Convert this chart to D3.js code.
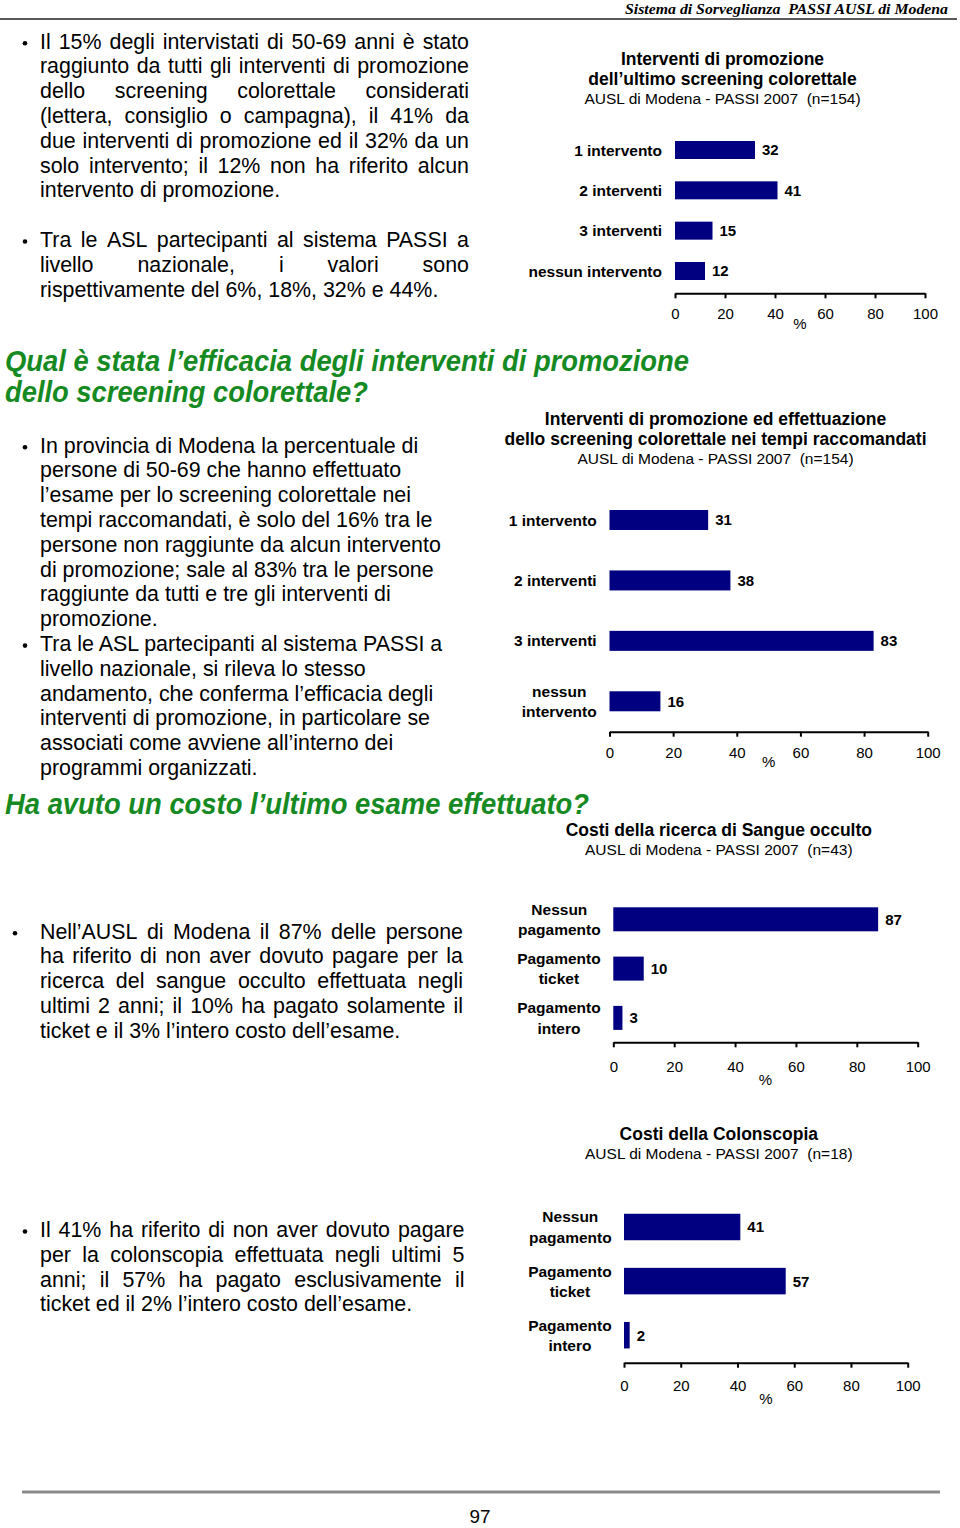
<!DOCTYPE html>
<html><head><meta charset="utf-8">
<script src="https://cdn.jsdelivr.net/npm/d3@7"></script>
<style>body{margin:0;background:#fff} svg{display:block} text{white-space:pre}</style>
</head><body>
<script>
// ---------- DATA ----------
const xTicks = [0, 20, 40, 60, 80, 100];

const chart1Categories = ["1 intervento", "2 interventi", "3 interventi", "nessun intervento"];
const chart1Values = [32, 41, 15, 12];

const chart2Categories = ["1 intervento", "2 interventi", "3 interventi", "nessun\nintervento"];
const chart2Values = [31, 38, 83, 16];

const chart3Categories = ["Nessun\npagamento", "Pagamento\nticket", "Pagamento\nintero"];
const chart3Values = [87, 10, 3];

const chart4Categories = ["Nessun\npagamento", "Pagamento\nticket", "Pagamento\nintero"];
const chart4Values = [41, 57, 2];

const chart1Titles = ["Interventi di promozione", "dell\u2019ultimo screening colorettale", "AUSL di Modena - PASSI 2007  (n=154)"];
const chart2Titles = ["Interventi di promozione ed effettuazione", "dello screening colorettale nei tempi raccomandati", "AUSL di Modena - PASSI 2007  (n=154)"];
const chart3Titles = ["Costi della ricerca di Sangue occulto", "AUSL di Modena - PASSI 2007  (n=43)"];
const chart4Titles = ["Costi della Colonscopia", "AUSL di Modena - PASSI 2007  (n=18)"];

const headerText = "Sistema di Sorveglianza  PASSI AUSL di Modena";
const heading1 = ["Qual \u00e8 stata l\u2019efficacia degli interventi di promozione", "dello screening colorettale?"];
const heading2 = "Ha avuto un costo l\u2019ultimo esame effettuato?";
const pageNumber = "97";

const text1a = [
  "Il 15% degli intervistati di 50-69 anni \u00e8 stato",
  "raggiunto da tutti gli interventi di promozione",
  "dello screening colorettale considerati",
  "(lettera, consiglio o campagna), il 41% da",
  "due interventi di promozione ed il 32% da un",
  "solo intervento; il 12% non ha riferito alcun",
  "intervento di promozione."
];
const text1b = [
  "Tra le ASL partecipanti al sistema PASSI a",
  "livello nazionale, i valori sono",
  "rispettivamente del 6%, 18%, 32% e 44%."
];
const text2a = [
  "In provincia di Modena la percentuale di",
  "persone di 50-69 che hanno effettuato",
  "l\u2019esame per lo screening colorettale nei",
  "tempi raccomandati, \u00e8 solo del 16% tra le",
  "persone non raggiunte da alcun intervento",
  "di promozione; sale al 83% tra le persone",
  "raggiunte da tutti e tre gli interventi di",
  "promozione."
];
const text2b = [
  "Tra le ASL partecipanti al sistema PASSI a",
  "livello nazionale, si rileva lo stesso",
  "andamento, che conferma l\u2019efficacia degli",
  "interventi di promozione, in particolare se",
  "associati come avviene all\u2019interno dei",
  "programmi organizzati."
];
const text3 = [
  "Nell\u2019AUSL di Modena il 87% delle persone",
  "ha riferito di non aver dovuto pagare per la",
  "ricerca del sangue occulto effettuata negli",
  "ultimi 2 anni; il 10% ha pagato solamente il",
  "ticket e il 3% l\u2019intero costo dell\u2019esame."
];
const text4 = [
  "Il 41% ha riferito di non aver dovuto pagare",
  "per la colonscopia effettuata negli ultimi 5",
  "anni; il 57% ha pagato esclusivamente il",
  "ticket ed il 2% l\u2019intero costo dell\u2019esame."
];

// ---------- SETUP ----------
const SANS = "'Liberation Sans', Arial, Helvetica, sans-serif";
const SERIF = "'Liberation Serif', 'Times New Roman', serif";
const BAR = "#000080";
const GREEN = "#168a22";

const svg = d3.select("body").append("svg")
  .attr("width", 960).attr("height", 1528)
  .attr("font-family", SANS);
svg.append("rect").attr("width", 960).attr("height", 1528).attr("fill", "#fff");

function measure(text, size, weight) {
  const t = svg.append("text").attr("font-size", size).attr("font-weight", weight || "normal")
    .attr("font-family", SANS).text(text);
  const w = t.node().getComputedTextLength();
  t.remove();
  return w;
}

// ---------- HEADER / FOOTER ----------
svg.append("text").attr("x", 625).attr("y", 13.5)
  .attr("font-family", SERIF).attr("font-style", "italic").attr("font-weight", "bold")
  .attr("font-size", 15.5).attr("textLength", 323).attr("lengthAdjust", "spacingAndGlyphs")
  .text(headerText);
svg.append("line").attr("x1", 0).attr("x2", 957).attr("y1", 19).attr("y2", 19)
  .attr("stroke", "#222").attr("stroke-width", 1.6);

svg.append("line").attr("x1", 22).attr("x2", 940).attr("y1", 1492).attr("y2", 1492)
  .attr("stroke", "#8a8a8a").attr("stroke-width", 3);
svg.append("text").attr("x", 480).attr("y", 1523).attr("text-anchor", "middle")
  .attr("font-size", 18).attr("textLength", 21).attr("lengthAdjust", "spacingAndGlyphs")
  .text(pageNumber);

// ---------- GREEN HEADINGS ----------
svg.append("text").attr("x", 5).attr("y", 371).attr("fill", GREEN)
  .attr("font-size", 29).attr("font-weight", "bold").attr("font-style", "italic")
  .attr("textLength", 684).attr("lengthAdjust", "spacingAndGlyphs").text(heading1[0]);
svg.append("text").attr("x", 5).attr("y", 402).attr("fill", GREEN)
  .attr("font-size", 29).attr("font-weight", "bold").attr("font-style", "italic")
  .attr("textLength", 363).attr("lengthAdjust", "spacingAndGlyphs").text(heading1[1]);
svg.append("text").attr("x", 5).attr("y", 814).attr("fill", GREEN)
  .attr("font-size", 29).attr("font-weight", "bold").attr("font-style", "italic")
  .attr("textLength", 584).attr("lengthAdjust", "spacingAndGlyphs").text(heading2);

// ---------- BODY TEXT ----------
const FS = 21.4, STEP = 24.8;
function paragraph(lines, opt) {
  const g = svg.append("g").attr("font-size", FS).attr("fill", "#000");
  if (opt.bulletX != null) {
    g.append("circle").attr("cx", opt.bulletX).attr("cy", opt.y0 + 2).attr("r", 2.3).attr("fill", "#000");
  }
  lines.forEach((line, i) => {
    const baseline = opt.y0 + i * STEP + 7.4;
    const last = i === lines.length - 1;
    if (opt.right && !last) {
      const words = line.split(" ");
      const widths = words.map(w => measure(w, FS));
      const total = d3.sum(widths);
      const gap = (opt.right - opt.x - total) / (words.length - 1);
      const t = g.append("text").attr("y", baseline);
      let cx = opt.x;
      words.forEach((w, k) => {
        t.append("tspan").attr("x", cx).text(w);
        cx += widths[k] + gap;
      });
    } else {
      g.append("text").attr("x", opt.x).attr("y", baseline).text(line);
    }
  });
}
paragraph(text1a, { x: 40, y0: 41.2, right: 469, bulletX: 25 });
paragraph(text1b, { x: 40, y0: 239.5, right: 469, bulletX: 25 });
paragraph(text2a, { x: 40, y0: 445.2, bulletX: 25 });
paragraph(text2b, { x: 40, y0: 445.2 + 8 * STEP, bulletX: 25 });
paragraph(text3, { x: 40, y0: 931.2, right: 463, bulletX: 15 });
paragraph(text4, { x: 40, y0: 1229.5, right: 464.5, bulletX: 25 });

// ---------- CHARTS ----------
function drawChart(cfg, cats, vals, titles) {
  const g = svg.append("g");
  const x = d3.scaleLinear().domain([0, 100]).range([cfg.x0, cfg.x1]);
  const n = cats.length;
  const pi = 1 - cfg.barH / cfg.step;
  const y = d3.scaleBand().domain(cats)
    .range([cfg.c0 - cfg.step / 2, cfg.c0 + (n - 0.5) * cfg.step])
    .paddingInner(pi).paddingOuter(pi / 2);
  const bw = y.bandwidth();

  titles.forEach((t, i) => {
    const bold = i < cfg.boldTitles;
    g.append("text").attr("x", cfg.titleX).attr("y", cfg.titleY[i])
      .attr("text-anchor", "middle")
      .attr("font-size", bold ? 17.5 : 15.5)
      .attr("font-weight", bold ? "bold" : "normal")
      .text(t);
  });

  const data = cats.map((c, i) => ({ c, v: vals[i] }));

  g.selectAll("rect.bar").data(data).join("rect").attr("class", "bar")
    .attr("x", x(0)).attr("y", d => y(d.c))
    .attr("width", d => x(d.v) - x(0)).attr("height", bw)
    .attr("fill", BAR);

  g.selectAll("text.val").data(data).join("text").attr("class", "val")
    .attr("x", d => x(d.v) + 7).attr("y", d => y(d.c) + bw / 2 + 5.4)
    .attr("font-size", 15).attr("font-weight", "bold").text(d => d.v);

  data.forEach(d => {
    const lines = d.c.split("\n");
    const cy = y(d.c) + bw / 2;
    if (lines.length === 1) {
      g.append("text").attr("x", cfg.labelRight).attr("y", cy + 5.6)
        .attr("text-anchor", "end").attr("font-size", 15.5).attr("font-weight", "bold")
        .text(lines[0]);
    } else {
      const maxW = d3.max(lines, l => measure(l, 15.5, "bold"));
      const cx = cfg.labelRight - maxW / 2;
      const lg = 20.4;
      lines.forEach((l, k) => {
        g.append("text").attr("x", cx)
          .attr("y", cy + (k - (lines.length - 1) / 2) * lg + 5.6)
          .attr("text-anchor", "middle").attr("font-size", 15.5).attr("font-weight", "bold")
          .text(l);
      });
    }
  });

  const axis = d3.axisBottom(x).tickValues(xTicks).tickSize(5).tickSizeOuter(0)
    .tickPadding(cfg.tickDy - 10.25);
  const ag = g.append("g").attr("transform", `translate(0,${cfg.axisY})`).call(axis);
  ag.attr("font-family", SANS).attr("font-size", 15);
  ag.select(".domain").attr("stroke", "#000").attr("stroke-width", 2);
  ag.selectAll(".tick line").attr("stroke", "#000").attr("stroke-width", 2);
  ag.selectAll(".tick text").attr("fill", "#000");

  g.append("text").attr("x", x(50)).attr("y", cfg.axisY + cfg.pctDy + 5.4)
    .attr("text-anchor", "middle").attr("font-size", 15).text("%");
}

drawChart({ x0: 675, x1: 925, c0: 150, step: 40.33, barH: 18, axisY: 293.3, tickDy: 20, pctDy: 30,
  labelRight: 662, titleX: 722.5, titleY: [65, 85, 104], boldTitles: 2 },
  chart1Categories, chart1Values, chart1Titles);

drawChart({ x0: 609.5, x1: 927.7, c0: 520, step: 60.43, barH: 20, axisY: 731.7, tickDy: 21, pctDy: 30,
  labelRight: 596.7, titleX: 715.5, titleY: [425.3, 445.3, 463.8], boldTitles: 2 },
  chart2Categories, chart2Values, chart2Titles);

drawChart({ x0: 613.3, x1: 917.7, c0: 919.3, step: 49.3, barH: 24, axisY: 1042.3, tickDy: 24, pctDy: 37,
  labelRight: 600.7, titleX: 718.8, titleY: [836.3, 854.8], boldTitles: 1 },
  chart3Categories, chart3Values, chart3Titles);

drawChart({ x0: 624, x1: 907.7, c0: 1227, step: 54.1, barH: 26.5, axisY: 1362.7, tickDy: 23, pctDy: 36,
  labelRight: 611.7, titleX: 718.8, titleY: [1139.6, 1158.8], boldTitles: 1 },
  chart4Categories, chart4Values, chart4Titles);
</script>
</body></html>
